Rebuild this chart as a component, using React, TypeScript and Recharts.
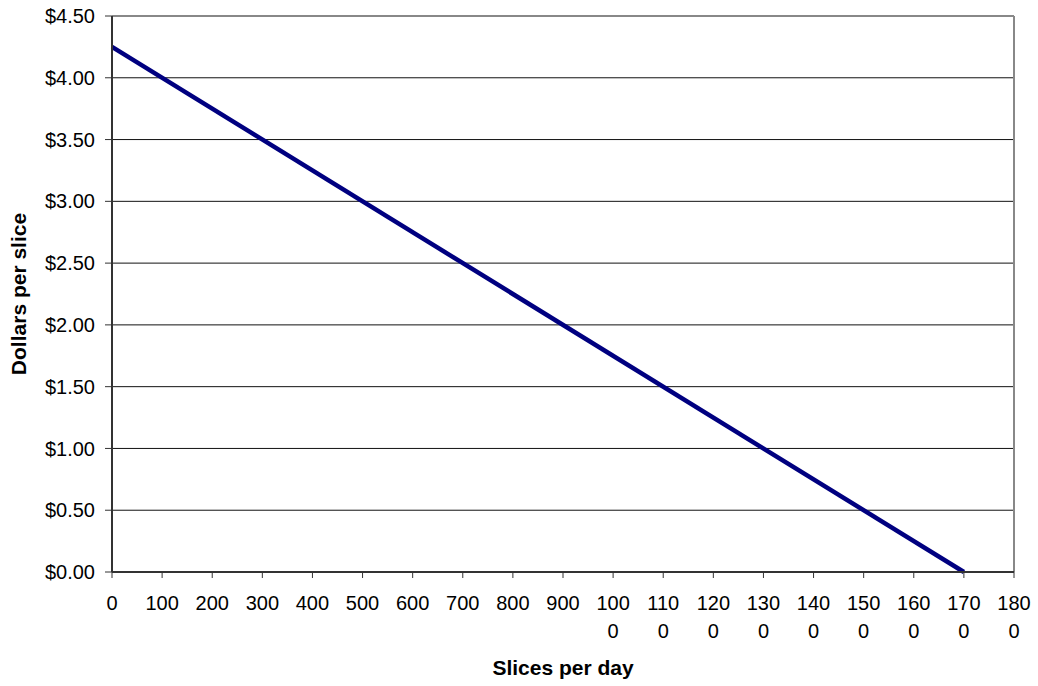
import React from 'react';
import { LineChart, Line, XAxis, YAxis, CartesianGrid, ReferenceLine } from 'recharts';

// Demand curve
const slicesPerDay = [0, 1700];
const dollarsPerSlice = [4.25, 0];

const xTicks = [0, 100, 200, 300, 400, 500, 600, 700, 800, 900, 1000, 1100, 1200, 1300, 1400, 1500, 1600, 1700, 1800];
const yTicks = [0, 0.5, 1, 1.5, 2, 2.5, 3, 3.5, 4, 4.5];

const xTitle = 'Slices per day';
const yTitle = 'Dollars per slice';

const data = slicesPerDay.map((q, i) => ({ q, p: dollarsPerSlice[i] }));

const FONT = '"Liberation Sans", Arial, sans-serif';

// Excel wraps the 4-digit labels after three characters
const XTick = (props: any) => {
	const { x, y, payload } = props;
	const s = String(payload.value);
	const lines = s.length > 3 ? [s.slice(0, 3), s.slice(3)] : [s];
	return (
		<text x={x} y={y} textAnchor="middle" fontFamily={FONT} fontSize={20} fill="#000">
			{lines.map((l, i) => (
				<tspan key={i} x={x} y={y + 32 + i * 28}>{l}</tspan>
			))}
		</text>
	);
};

const App: React.FC = () => {
	return (
		<div style={{ position: 'absolute', left: 0, top: 0, width: 1038, height: 686, background: '#fff' }}>
			<LineChart width={1038} height={686} data={data} margin={{ top: 16, right: 24, bottom: 0, left: 0 }}>
				<CartesianGrid vertical={false} stroke="#111" strokeWidth={1} />
				<XAxis
					dataKey="q"
					type="number"
					domain={[0, 1800]}
					ticks={xTicks}
					interval={0}
					height={114}
					tickSize={6}
					tickMargin={0}
					tick={<XTick />}
					axisLine={{ stroke: '#333', strokeWidth: 2 }}
					tickLine={{ stroke: '#333' }}
					label={{
						content: (p: any) => {
							const vb = p.viewBox;
							return (
								<text x={vb.x + vb.width / 2} y={vb.y + 103} textAnchor="middle" fontFamily={FONT} fontSize={21} fontWeight="bold" fill="#000">
									{xTitle}
								</text>
							);
						},
					}}
				/>
				<YAxis
					type="number"
					domain={[0, 4.5]}
					ticks={yTicks}
					interval={0}
					width={112}
					tickSize={7}
					tickMargin={10}
					tickFormatter={(v: number) => `$${v.toFixed(2)}`}
					tick={{ fontFamily: FONT, fontSize: 20, fill: '#000' }}
					axisLine={{ stroke: '#333', strokeWidth: 2 }}
					tickLine={{ stroke: '#333' }}
					label={{
						content: (p: any) => {
							const vb = p.viewBox;
							const cx = vb.x + 18;
							const cy = vb.y + vb.height / 2;
							return (
								<text x={cx} y={cy} transform={`rotate(-90, ${cx}, ${cy})`} textAnchor="middle" dominantBaseline="central" fontFamily={FONT} fontSize={21} fontWeight="bold" fill="#000">
									{yTitle}
								</text>
							);
						},
					}}
				/>
				<ReferenceLine y={4.5} stroke="#888" strokeWidth={2} />
				<ReferenceLine x={1800} stroke="#888" strokeWidth={2} />
				<Line type="linear" dataKey="p" stroke="#000080" strokeWidth={4.5} dot={false} isAnimationActive={false} />
			</LineChart>
		</div>
	);
};

export default App;
